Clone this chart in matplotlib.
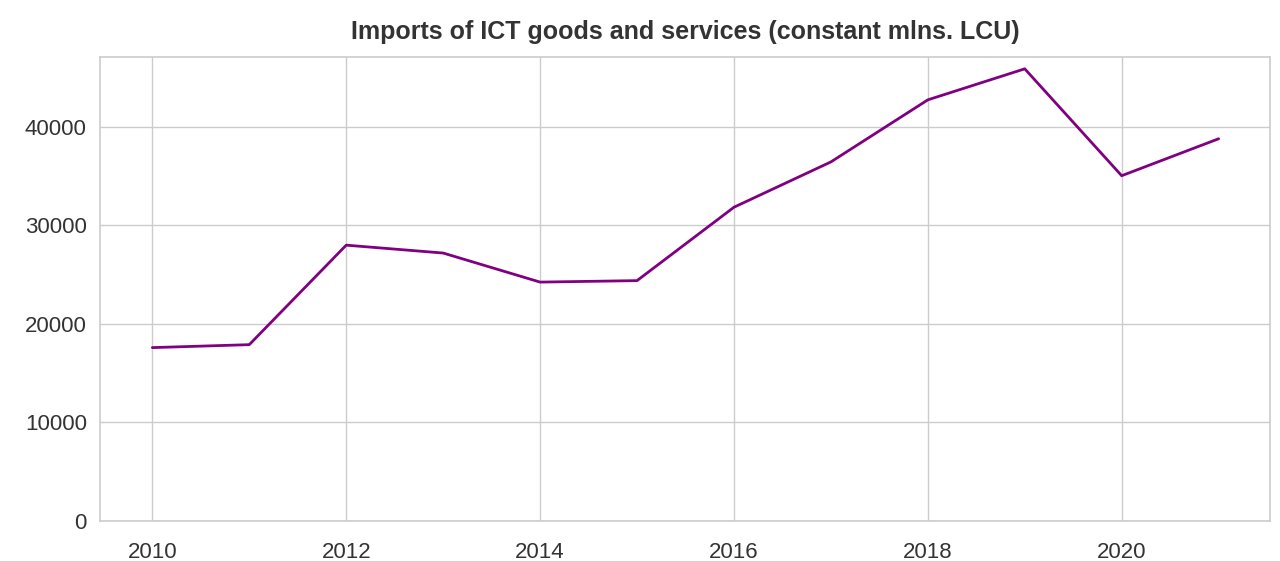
import matplotlib
matplotlib.use("Agg")
import matplotlib.pyplot as plt
import seaborn as sns

years = [2010, 2011, 2012, 2013, 2014, 2015, 2016, 2017, 2018, 2019, 2020, 2021]
imports = [17600, 17900, 28000, 27200, 24250, 24400, 31850, 36450, 42750, 45900, 35050, 38800]

sns.set_theme(style="whitegrid")
plt.rcParams["font.family"] = ["Arial", "Liberation Sans", "DejaVu Sans"]

fig = plt.figure(figsize=(12.8, 5.61), dpi=100)
ax = fig.add_axes([100 / 1280, 40 / 561, 1170 / 1280, 464 / 561])
ax.plot(years, imports, color="purple", lw=2)
ax.set_ylim(0, 47100)
ax.set_xlim(2009.46, 2021.53)
ax.set_xticks([2010, 2012, 2014, 2016, 2018, 2020])
ax.tick_params(labelsize=16, colors="#333333")
ax.tick_params(axis="x", pad=9)
for s in ax.spines.values():
    s.set_color("#cccccc")
    s.set_linewidth(1.2)
ax.set_title("Imports of ICT goods and services (constant mlns. LCU)",
             fontsize=18, fontweight="bold", color="#333333", pad=13)

fig.savefig("out.png", dpi=100)
